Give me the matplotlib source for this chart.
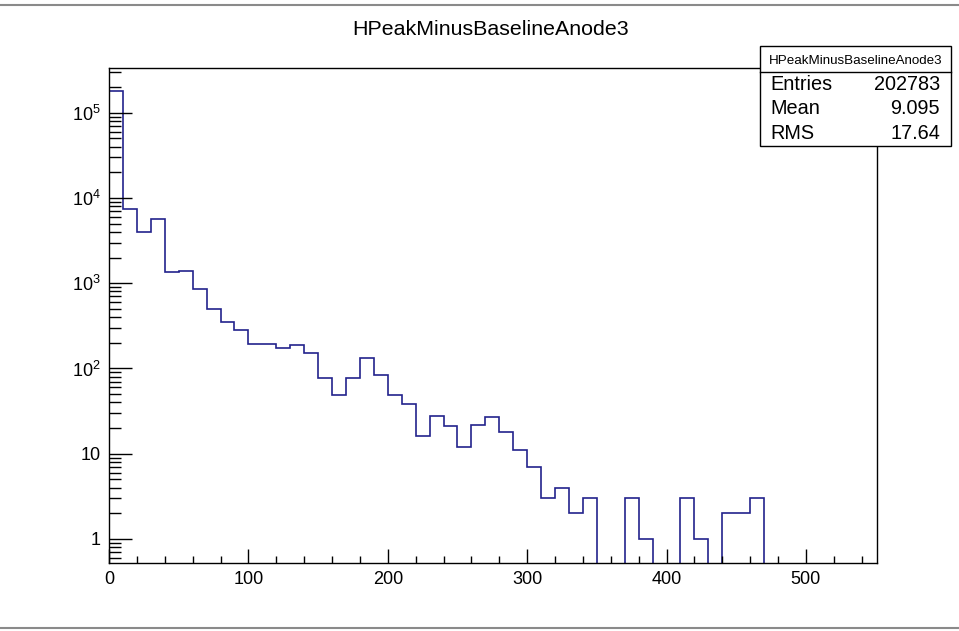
import numpy as np
import matplotlib
matplotlib.use("Agg")
import matplotlib.pyplot as plt
from matplotlib.lines import Line2D
from matplotlib.patches import Rectangle
from matplotlib.ticker import FixedLocator, FixedFormatter, LogLocator, MultipleLocator, NullFormatter

plt.rcParams['font.family'] = ['Liberation Sans', 'DejaVu Sans']
plt.rcParams['mathtext.fontset'] = 'custom'
plt.rcParams['mathtext.rm'] = 'Liberation Sans'
plt.rcParams['mathtext.it'] = 'Liberation Sans'

hist_name = "HPeakMinusBaselineAnode3"
bin_edges = np.arange(0, 560, 10)

# counts per 10-wide bin, 0..550
counts = [
    179447, 7390, 3940, 5690, 1349, 1400, 846, 493, 347, 282,
    195, 195, 172, 187, 152, 78, 49, 78, 133, 84,
    49, 38, 16, 28, 21, 12, 22, 27, 18, 11,
    7, 3, 4, 2, 3, 0, 0, 3, 1, 0,
    0, 3, 1, 0, 2, 2, 3, 0, 0, 0,
    0, 0, 0, 0, 0,
]

stat_names = ["Entries", "Mean", "RMS"]
stat_values = ["202783", "9.095", "17.64"]

y_ticks = [1, 10, 100, 1000, 10000, 100000]
y_tick_labels = ["1", "10", r"$10^{2}$", r"$10^{3}$", r"$10^{4}$", r"$10^{5}$"]

W, H = 959, 631
fig = plt.figure(figsize=(W / 100, H / 100), dpi=100)
ax = fig.add_axes([109 / W, 1 - 563 / H, (877 - 109) / W, (563 - 68) / H])

y_min, y_max = 0.523, 3.34e5
# empty bins go down to the frame floor like in ROOT
shown = np.where(np.array(counts) > 0, counts, y_min * 0.5)
ax.stairs(shown, bin_edges, color='#22228c', linewidth=1.2)

ax.set_yscale('log')
ax.set_xlim(0, 551)
ax.set_ylim(y_min, y_max)

ax.xaxis.set_major_locator(MultipleLocator(100))
ax.xaxis.set_minor_locator(MultipleLocator(20))
ax.yaxis.set_major_locator(FixedLocator(y_ticks))
ax.yaxis.set_major_formatter(FixedFormatter(y_tick_labels))
ax.yaxis.set_minor_locator(LogLocator(base=10, subs=np.arange(2, 10)))
ax.yaxis.set_minor_formatter(NullFormatter())

ax.tick_params(axis='both', which='both', direction='in', colors='black', labelsize=13)
ax.tick_params(axis='x', which='major', length=10, width=1.0, pad=5.5)
ax.tick_params(axis='x', which='minor', length=5, width=1.0)
ax.tick_params(axis='y', which='major', length=16.5, width=1.0, pad=6)
ax.tick_params(axis='y', which='minor', length=8.5, width=1.0)
for sp in ax.spines.values():
    sp.set_linewidth(1.0)

fig.text(491 / W, 1 - 35 / H, hist_name, ha='center', va='baseline', fontsize=15.4)

# statistics box
bx0, bx1, by0, by1, bsep = 760, 951, 46, 146, 71.7
fig.add_artist(Rectangle((bx0 / W, 1 - by1 / H), (bx1 - bx0) / W, (by1 - by0) / H,
                         transform=fig.transFigure, facecolor='white',
                         edgecolor='black', linewidth=1.0, zorder=5))
fig.add_artist(Line2D([bx0 / W, bx1 / W], [1 - bsep / H, 1 - bsep / H],
                      transform=fig.transFigure, color='black', linewidth=1.0, zorder=6))
fig.text((bx0 + bx1) / 2 / W, 1 - 63.5 / H, hist_name, ha='center', va='baseline',
         fontsize=9.6, zorder=7)
for i, (name, val) in enumerate(zip(stat_names, stat_values)):
    yb = 1 - (90 + 24.5 * i) / H
    fig.text(770.5 / W, yb, name, ha='left', va='baseline', fontsize=14.3, zorder=7)
    fig.text(940 / W, yb, val, ha='right', va='baseline', fontsize=14.3, zorder=7)

# canvas border lines
for yl in (4.5, 628):
    fig.add_artist(Line2D([0, 1], [1 - yl / H, 1 - yl / H], transform=fig.transFigure,
                          color='#8a8a8a', linewidth=1.5))

fig.savefig("out.png", dpi=100)
